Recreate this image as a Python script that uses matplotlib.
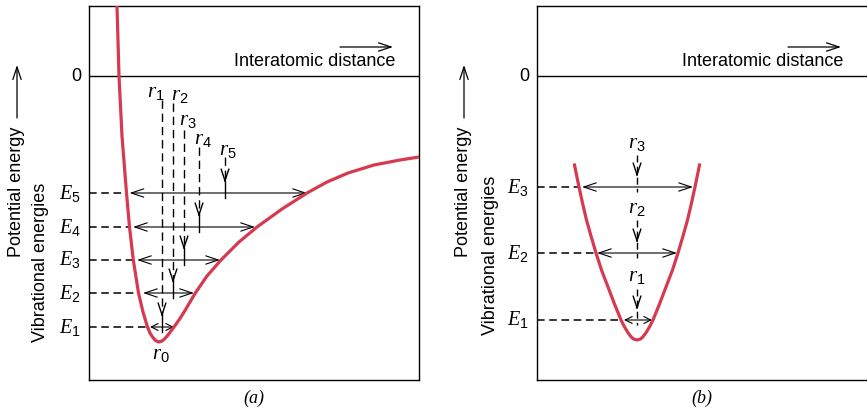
import matplotlib
matplotlib.use('Agg')
import matplotlib.pyplot as plt

# units: x = pixels from the left spine, y = energy (0 at the zero line, 1 unit per pixel)
# (a) asymmetric potential well
curve_a_x = [28, 30, 33, 37.5, 40.5, 44.3, 49.5, 54, 58.5, 61, 63.5, 66.5, 69.5,
             72.5, 75.5, 79, 85, 91, 96, 106, 118, 132, 150, 168, 193, 218, 238,
             259, 285, 311, 330]
curve_a_y = [70, 0, -60, -117, -151, -184, -217, -236, -251, -257, -261, -264.5, -266,
             -265.3, -263, -259, -251, -242.5, -234.5, -217.5, -200, -184, -166, -151,
             -133, -117, -106, -97, -89, -84, -81]
levels_a = [-251, -217, -184, -151, -117]          # E1..E5
left_tip_a = [61, 54, 48, 44, 40.5]
right_tip_a = [85, 105, 131, 166, 218]
wall_a = [58.5, 49.5, 44.3, 40.5, 37.5]            # left branch at each level
r_x_a = [73, 84, 95, 110, 136]                     # r1..r5
r_top_a = [-24, -27, -54, -71, -81]
r_lab_a = [(67, -16), (91, -19), (99, -44), (114, -63), (139, -74)]
r0_a = (72, -279)

# (b) symmetric well
curve_b_x = [37.5, 42, 45.5, 49.5, 54, 59, 64.5, 71, 77.5, 84, 87, 90.5, 94.2, 96.5,
             100, 103.5, 105.8, 109.5, 113, 116, 122.5, 129, 135.5, 141, 146, 150.5,
             154.5, 158, 162.5]
curve_b_y = [-89, -111, -127, -144, -160, -177, -194, -211, -228, -244, -250, -256,
             -261, -263, -264, -263, -261, -256, -250, -244, -228, -211, -194, -177,
             -160, -144, -127, -111, -89]
levels_b = [-244, -177, -111]                      # E1..E3
left_tip_b = [87, 60, 45]
right_tip_b = [115, 140, 156]
wall_b = [84, 59, 42]
r_x_b = 100
r_top_b = [-213, -144, -79]
r_lab_b = [-201, -132, -67]

RED = '#d63a50'
W, H = 867, 409

plt.rcParams['font.family'] = 'Liberation Sans'
plt.rcParams['mathtext.fontset'] = 'custom'
plt.rcParams['mathtext.it'] = 'Liberation Serif:italic'
plt.rcParams['mathtext.rm'] = 'Liberation Sans'

fig = plt.figure(figsize=(W / 100, H / 100), dpi=100)


def make_ax(px_left, px_right):
    ax = fig.add_axes([px_left / W, (H - 380) / H, (px_right - px_left) / W, 374 / H])
    ax.set_xlim(0, px_right - px_left)
    ax.set_ylim(-304, 70)
    ax.set_xticks([])
    ax.set_yticks([])
    for s in ax.spines.values():
        s.set_linewidth(1.0)
    ax.axhline(0, color='black', lw=1.0)
    ax.text(-13, 0, '0', ha='center', va='center', fontsize=13, clip_on=False)
    ax.text(306, 15, 'Interatomic distance', ha='right', va='center', fontsize=13)
    ax.annotate('', xy=(304, 29), xytext=(251, 29),
                arrowprops=dict(arrowstyle='->,head_length=0.9,head_width=0.3',
                                lw=0.9, shrinkA=0, shrinkB=0))
    return ax


def harrow(ax, x0, x1, y, small=False):
    hl, hw = (0.5, 0.25) if small else (0.9, 0.3)
    ax.annotate('', xy=(x1, y), xytext=(x0, y),
                arrowprops=dict(arrowstyle=f'<->,head_length={hl},head_width={hw}',
                                lw=0.8, shrinkA=0, shrinkB=0))


def down_head(ax, x, y):
    ax.annotate('', xy=(x, y), xytext=(x, y + 4),
                arrowprops=dict(arrowstyle='->,head_length=0.85,head_width=0.28',
                                lw=1.0, shrinkA=0, shrinkB=0))


def elabel(ax, n, y):
    ax.text(-19, y, rf'$E_{n}$', ha='center', va='center', fontsize=14.5, clip_on=False)


# ---- (a)
ax1 = make_ax(89, 419)
ax1.plot(curve_a_x, curve_a_y, color=RED, lw=2.3, solid_joinstyle='round', zorder=5)
for i, y in enumerate(levels_a):
    ax1.plot([0, wall_a[i]], [y, y], color='black', lw=1.1, ls=(0, (5, 3)))
    harrow(ax1, left_tip_a[i], right_tip_a[i], y, small=(i == 0))
    elabel(ax1, i + 1, y)
    x = r_x_a[i]
    ax1.plot([x, x], [r_top_a[i], y + 12], color='black', lw=1.0, ls=(0, (6, 3.5)))
    ax1.plot([x, x], [y + 12, y - 5], color='black', lw=1.0)
    down_head(ax1, x, y + 10)
    ax1.text(*r_lab_a[i], rf'$r_{i + 1}$', ha='center', va='center', fontsize=15)
ax1.text(*r0_a, r'$r_0$', ha='center', va='center', fontsize=15)

# ---- (b)
ax2 = make_ax(537, 867)
ax2.spines['right'].set_visible(False)
ax2.plot(curve_b_x, curve_b_y, color=RED, lw=2.3, solid_joinstyle='round', zorder=5)
for i, y in enumerate(levels_b):
    ax2.plot([0, wall_b[i]], [y, y], color='black', lw=1.1, ls=(0, (5, 3)))
    harrow(ax2, left_tip_b[i], right_tip_b[i], y, small=(i == 0))
    elabel(ax2, i + 1, y)
    ax2.plot([r_x_b, r_x_b], [r_top_b[i], y - 5], color='black', lw=1.0, ls=(0, (5, 3)))
    down_head(ax2, r_x_b, y + 10)
    ax2.text(r_x_b, r_lab_b[i], rf'$r_{i + 1}$', ha='center', va='center', fontsize=15)

# side labels and captions
for px_pe, px_ve, y_pe, y_ve in [(17, 41, 192, 262), (464, 490, 192, 255)]:
    fig.text(px_pe / W, 1 - y_pe / H, 'Potential energy', rotation=90,
             ha='center', va='center', fontsize=13)
    fig.text(px_ve / W, 1 - y_ve / H, 'Vibrational energies', rotation=90,
             ha='center', va='center', fontsize=13)
    ax1.annotate('', xy=(px_pe, H - 65), xytext=(px_pe, H - 118),
                 xycoords='figure pixels', textcoords='figure pixels',
                 arrowprops=dict(arrowstyle='->,head_length=0.9,head_width=0.3',
                                 lw=0.9, shrinkA=0, shrinkB=0))
fig.text(254 / W, 1 - 398 / H, '(a)', ha='center', va='center', fontsize=13,
         family='Liberation Serif', style='italic')
fig.text(702 / W, 1 - 398 / H, '(b)', ha='center', va='center', fontsize=13,
         family='Liberation Serif', style='italic')

fig.savefig('out.png', dpi=100)
